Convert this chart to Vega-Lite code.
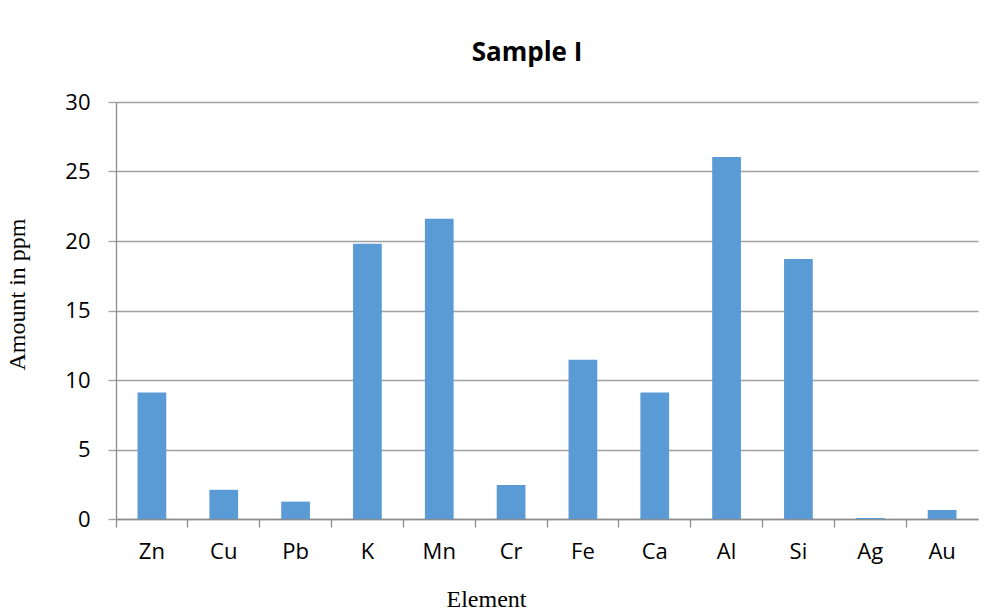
{
  "$schema": "https://vega.github.io/schema/vega-lite/v6.json",
  "autosize": {"type": "none"},
  "width": 862,
  "height": 417,
  "padding": {"left": 116, "top": 102, "right": 17, "bottom": 92},
  "background": "white",
  "title": {
    "text": "Sample I",
    "font": "Open Sans",
    "fontSize": 26,
    "fontWeight": "bold",
    "color": "#000000",
    "anchor": "middle",
    "dx": -20,
    "offset": 25
  },
  "data": {
    "values": [
      {"Element": "Zn", "Amount": 9.1},
      {"Element": "Cu", "Amount": 2.1},
      {"Element": "Pb", "Amount": 1.25},
      {"Element": "K", "Amount": 19.8},
      {"Element": "Mn", "Amount": 21.6},
      {"Element": "Cr", "Amount": 2.45},
      {"Element": "Fe", "Amount": 11.45},
      {"Element": "Ca", "Amount": 9.1},
      {"Element": "Al", "Amount": 26.05},
      {"Element": "Si", "Amount": 18.7},
      {"Element": "Ag", "Amount": 0.07},
      {"Element": "Au", "Amount": 0.65}
    ]
  },
  "mark": {"type": "bar", "color": "#5B9BD5", "width": {"band": 0.4}},
  "encoding": {
    "x": {
      "field": "Element",
      "type": "nominal",
      "sort": null,
      "scale": {"paddingInner": 0, "paddingOuter": 0},
      "axis": {
        "title": "Element",
        "titleFont": "Liberation Serif",
        "titleFontSize": 24,
        "titleFontWeight": "normal",
        "titleColor": "#000000",
        "titleX": 370,
        "titleY": 80,
        "titleBaseline": "middle",
        "titleAlign": "center",
        "labelAngle": 0,
        "labelFont": "Open Sans",
        "labelFontSize": 22,
        "labelColor": "#000000",
        "labelPadding": 14,
        "bandPosition": 0,
        "tickSize": 8,
        "tickColor": "#8c8c8c",
        "domainColor": "#8c8c8c",
        "tickWidth": 1.3,
        "domainWidth": 1.3,
        "grid": false
      }
    },
    "y": {
      "field": "Amount",
      "type": "quantitative",
      "scale": {"domain": [0, 30], "nice": false},
      "axis": {
        "title": "Amount in ppm",
        "titleFont": "Liberation Serif",
        "titleFontSize": 24,
        "titleFontWeight": "normal",
        "titleColor": "#000000",
        "titleX": -99,
        "titleY": 192,
        "titleBaseline": "middle",
        "titleAlign": "center",
        "titleAngle": -90,
        "values": [0, 5, 10, 15, 20, 25, 30],
        "labelFont": "Open Sans",
        "labelFontSize": 22,
        "labelColor": "#000000",
        "labelPadding": 18,
        "tickSize": 8,
        "tickColor": "#a0a0a0",
        "domainColor": "#8c8c8c",
        "tickWidth": 1.3,
        "domainWidth": 1.3,
        "grid": true,
        "gridColor": "#a0a0a0",
        "gridWidth": 1.3
      }
    }
  },
  "config": {
    "view": {"stroke": null}
  }
}
